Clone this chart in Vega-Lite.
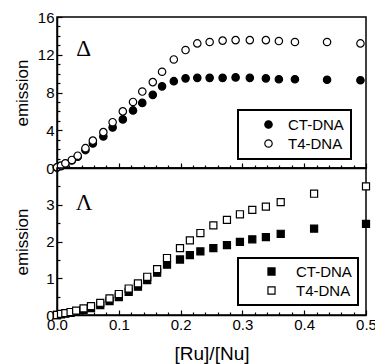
{
  "$schema": "https://vega.github.io/schema/vega-lite/v6.json",
  "padding": {"left": 12, "top": 9, "right": 5, "bottom": 0},
  "spacing": 0,
  "bounds": "flush",
  "config": {
    "font": "Liberation Sans",
    "view": {"stroke": "black", "strokeWidth": 1.5},
    "axis": {"domainColor": "black", "domainWidth": 1.5, "tickColor": "black", "tickWidth": 1.2, "labelColor": "black", "labelFont": "Liberation Sans", "labelFontSize": 15, "labelFlush": false, "titleFont": "Liberation Sans", "titleFontWeight": "normal", "titleColor": "black", "grid": false},
    "legend": {"strokeColor": "black", "strokeWidth": 2, "labelFont": "Liberation Sans", "labelFontSize": 15, "labelColor": "black", "symbolStrokeColor": "black", "symbolStrokeWidth": 1.2}
  },
  "datasets": {
    "delta": [
      {"series": "CT-DNA", "ratio": 0.000, "emission": 0.05},
      {"series": "CT-DNA", "ratio": 0.0065, "emission": 0.2},
      {"series": "CT-DNA", "ratio": 0.0135, "emission": 0.45},
      {"series": "CT-DNA", "ratio": 0.024, "emission": 0.8},
      {"series": "CT-DNA", "ratio": 0.0335, "emission": 1.2},
      {"series": "CT-DNA", "ratio": 0.046, "emission": 1.9},
      {"series": "CT-DNA", "ratio": 0.058, "emission": 2.6},
      {"series": "CT-DNA", "ratio": 0.075, "emission": 3.35},
      {"series": "CT-DNA", "ratio": 0.090, "emission": 4.3},
      {"series": "CT-DNA", "ratio": 0.1065, "emission": 5.15},
      {"series": "CT-DNA", "ratio": 0.123, "emission": 6.1},
      {"series": "CT-DNA", "ratio": 0.138, "emission": 6.9},
      {"series": "CT-DNA", "ratio": 0.155, "emission": 7.75},
      {"series": "CT-DNA", "ratio": 0.170, "emission": 8.65},
      {"series": "CT-DNA", "ratio": 0.189, "emission": 9.2},
      {"series": "CT-DNA", "ratio": 0.208, "emission": 9.5},
      {"series": "CT-DNA", "ratio": 0.227, "emission": 9.55},
      {"series": "CT-DNA", "ratio": 0.247, "emission": 9.55},
      {"series": "CT-DNA", "ratio": 0.268, "emission": 9.55},
      {"series": "CT-DNA", "ratio": 0.289, "emission": 9.6},
      {"series": "CT-DNA", "ratio": 0.312, "emission": 9.55},
      {"series": "CT-DNA", "ratio": 0.338, "emission": 9.5},
      {"series": "CT-DNA", "ratio": 0.359, "emission": 9.4},
      {"series": "CT-DNA", "ratio": 0.385, "emission": 9.4},
      {"series": "CT-DNA", "ratio": 0.437, "emission": 9.35},
      {"series": "CT-DNA", "ratio": 0.491, "emission": 9.3},
      {"series": "T4-DNA", "ratio": 0.000, "emission": 0.07},
      {"series": "T4-DNA", "ratio": 0.0065, "emission": 0.25},
      {"series": "T4-DNA", "ratio": 0.0135, "emission": 0.5},
      {"series": "T4-DNA", "ratio": 0.024, "emission": 0.85},
      {"series": "T4-DNA", "ratio": 0.0335, "emission": 1.3},
      {"series": "T4-DNA", "ratio": 0.046, "emission": 2.1},
      {"series": "T4-DNA", "ratio": 0.058, "emission": 2.9},
      {"series": "T4-DNA", "ratio": 0.075, "emission": 3.8},
      {"series": "T4-DNA", "ratio": 0.090, "emission": 4.85},
      {"series": "T4-DNA", "ratio": 0.1065, "emission": 6.0},
      {"series": "T4-DNA", "ratio": 0.123, "emission": 7.0},
      {"series": "T4-DNA", "ratio": 0.138, "emission": 8.1},
      {"series": "T4-DNA", "ratio": 0.155, "emission": 9.1},
      {"series": "T4-DNA", "ratio": 0.170, "emission": 10.2},
      {"series": "T4-DNA", "ratio": 0.189, "emission": 11.5},
      {"series": "T4-DNA", "ratio": 0.208, "emission": 12.5},
      {"series": "T4-DNA", "ratio": 0.227, "emission": 13.2},
      {"series": "T4-DNA", "ratio": 0.247, "emission": 13.35},
      {"series": "T4-DNA", "ratio": 0.268, "emission": 13.5},
      {"series": "T4-DNA", "ratio": 0.289, "emission": 13.55},
      {"series": "T4-DNA", "ratio": 0.312, "emission": 13.55},
      {"series": "T4-DNA", "ratio": 0.338, "emission": 13.55},
      {"series": "T4-DNA", "ratio": 0.359, "emission": 13.45},
      {"series": "T4-DNA", "ratio": 0.385, "emission": 13.35},
      {"series": "T4-DNA", "ratio": 0.437, "emission": 13.35},
      {"series": "T4-DNA", "ratio": 0.491, "emission": 13.2}
    ],
    "lambda": [
      {"series": "CT-DNA", "ratio": 0.000, "emission": 0.0},
      {"series": "CT-DNA", "ratio": 0.0065, "emission": 0.02},
      {"series": "CT-DNA", "ratio": 0.0135, "emission": 0.04},
      {"series": "CT-DNA", "ratio": 0.022, "emission": 0.06},
      {"series": "CT-DNA", "ratio": 0.031, "emission": 0.09},
      {"series": "CT-DNA", "ratio": 0.043, "emission": 0.14},
      {"series": "CT-DNA", "ratio": 0.055, "emission": 0.19},
      {"series": "CT-DNA", "ratio": 0.070, "emission": 0.27},
      {"series": "CT-DNA", "ratio": 0.085, "emission": 0.38},
      {"series": "CT-DNA", "ratio": 0.100, "emission": 0.49},
      {"series": "CT-DNA", "ratio": 0.116, "emission": 0.63},
      {"series": "CT-DNA", "ratio": 0.131, "emission": 0.77},
      {"series": "CT-DNA", "ratio": 0.146, "emission": 0.95},
      {"series": "CT-DNA", "ratio": 0.162, "emission": 1.15},
      {"series": "CT-DNA", "ratio": 0.178, "emission": 1.37},
      {"series": "CT-DNA", "ratio": 0.199, "emission": 1.51},
      {"series": "CT-DNA", "ratio": 0.215, "emission": 1.63},
      {"series": "CT-DNA", "ratio": 0.232, "emission": 1.73},
      {"series": "CT-DNA", "ratio": 0.253, "emission": 1.82},
      {"series": "CT-DNA", "ratio": 0.275, "emission": 1.9},
      {"series": "CT-DNA", "ratio": 0.296, "emission": 1.99},
      {"series": "CT-DNA", "ratio": 0.316, "emission": 2.06},
      {"series": "CT-DNA", "ratio": 0.338, "emission": 2.12},
      {"series": "CT-DNA", "ratio": 0.362, "emission": 2.21},
      {"series": "CT-DNA", "ratio": 0.416, "emission": 2.35},
      {"series": "CT-DNA", "ratio": 0.5, "emission": 2.48},
      {"series": "T4-DNA", "ratio": 0.000, "emission": 0.0},
      {"series": "T4-DNA", "ratio": 0.0065, "emission": 0.03},
      {"series": "T4-DNA", "ratio": 0.0135, "emission": 0.05},
      {"series": "T4-DNA", "ratio": 0.022, "emission": 0.08},
      {"series": "T4-DNA", "ratio": 0.031, "emission": 0.12},
      {"series": "T4-DNA", "ratio": 0.043, "emission": 0.18},
      {"series": "T4-DNA", "ratio": 0.055, "emission": 0.24},
      {"series": "T4-DNA", "ratio": 0.070, "emission": 0.33},
      {"series": "T4-DNA", "ratio": 0.085, "emission": 0.45},
      {"series": "T4-DNA", "ratio": 0.100, "emission": 0.57},
      {"series": "T4-DNA", "ratio": 0.116, "emission": 0.72},
      {"series": "T4-DNA", "ratio": 0.131, "emission": 0.86},
      {"series": "T4-DNA", "ratio": 0.146, "emission": 1.04},
      {"series": "T4-DNA", "ratio": 0.162, "emission": 1.25},
      {"series": "T4-DNA", "ratio": 0.178, "emission": 1.55},
      {"series": "T4-DNA", "ratio": 0.199, "emission": 1.82},
      {"series": "T4-DNA", "ratio": 0.215, "emission": 2.03},
      {"series": "T4-DNA", "ratio": 0.232, "emission": 2.23},
      {"series": "T4-DNA", "ratio": 0.253, "emission": 2.44},
      {"series": "T4-DNA", "ratio": 0.275, "emission": 2.59},
      {"series": "T4-DNA", "ratio": 0.296, "emission": 2.74},
      {"series": "T4-DNA", "ratio": 0.316, "emission": 2.86},
      {"series": "T4-DNA", "ratio": 0.338, "emission": 2.95},
      {"series": "T4-DNA", "ratio": 0.362, "emission": 3.07},
      {"series": "T4-DNA", "ratio": 0.416, "emission": 3.3},
      {"series": "T4-DNA", "ratio": 0.5, "emission": 3.5}
    ],
    "deltaLabel": [{"label": "Δ", "ratio": 0.043, "emission": 11.9}],
    "lambdaLabel": [{"label": "Λ", "ratio": 0.044, "emission": 2.85}]
  },
  "vconcat": [
    {
      "width": 309,
      "height": 151,
      "layer": [
        {
          "data": {"name": "delta"},
          "mark": {"type": "point", "shape": "circle", "filled": true, "stroke": "black", "strokeWidth": 1.2, "size": 55, "opacity": 1},
          "encoding": {
            "x": {"field": "ratio", "type": "quantitative", "scale": {"domain": [0, 0.5], "nice": false}, "axis": {"orient": "bottom", "values": [0, 0.1, 0.2, 0.3, 0.4, 0.5], "labels": false, "title": null, "tickSize": -5}},
            "y": {"field": "emission", "type": "quantitative", "scale": {"domain": [0, 16], "nice": false}, "axis": {"orient": "left", "values": [0, 4, 8, 12, 16], "tickSize": -5, "labelPadding": 8, "title": "emission", "titleFontSize": 17, "titleX": -26}},
            "fill": {"field": "series", "type": "nominal", "scale": {"domain": ["CT-DNA", "T4-DNA"], "range": ["black", "white"]},
              "legend": {"orient": "none", "legendX": 181, "legendY": 93, "title": null, "symbolType": "circle", "symbolSize": 55, "padding": 7, "rowPadding": 3, "symbolOffset": 16, "labelOffset": 12, "labelExpr": "datum.label + '   '"}}
          }
        },
        {
          "data": {"name": "delta"},
          "mark": {"type": "point", "opacity": 0},
          "encoding": {
            "x": {"field": "ratio", "type": "quantitative", "axis": {"orient": "bottom", "values": [0.02, 0.04, 0.06, 0.08, 0.12, 0.14, 0.16, 0.18, 0.22, 0.24, 0.26, 0.28, 0.32, 0.34, 0.36, 0.38, 0.42, 0.44, 0.46, 0.48], "labels": false, "domain": false, "title": null, "tickSize": -3}},
            "y": {"field": "emission", "type": "quantitative", "axis": {"orient": "left", "values": [1, 2, 3, 5, 6, 7, 9, 10, 11, 13, 14, 15], "labels": false, "domain": false, "title": null, "tickSize": -3}}
          }
        },
        {
          "data": {"name": "deltaLabel"},
          "mark": {"type": "text", "font": "Liberation Serif", "fontSize": 23, "baseline": "alphabetic", "align": "center", "color": "black"},
          "encoding": {
            "x": {"field": "ratio", "type": "quantitative", "axis": null},
            "y": {"field": "emission", "type": "quantitative", "axis": null},
            "text": {"field": "label"}
          }
        }
      ],
      "resolve": {"axis": {"x": "independent", "y": "independent"}}
    },
    {
      "width": 309,
      "height": 147,
      "layer": [
        {
          "data": {"name": "lambda"},
          "mark": {"type": "point", "shape": "square", "filled": true, "stroke": "black", "strokeWidth": 1.2, "size": 50, "opacity": 1},
          "encoding": {
            "x": {"field": "ratio", "type": "quantitative", "scale": {"domain": [0, 0.5], "nice": false}, "axis": {"orient": "bottom", "values": [0, 0.1, 0.2, 0.3, 0.4, 0.5], "format": ".1f", "tickSize": -5, "labelPadding": 7, "title": "[Ru]/[Nu]", "titleFontSize": 19, "titlePadding": 12}},
            "y": {"field": "emission", "type": "quantitative", "scale": {"domain": [0, 4], "nice": false}, "axis": {"orient": "left", "values": [0, 1, 2, 3], "tickSize": -5, "labelPadding": 8, "title": "emission", "titleFontSize": 17, "titleX": -26}},
            "fill": {"field": "series", "type": "nominal", "scale": {"domain": ["CT-DNA", "T4-DNA"], "range": ["black", "white"]},
              "legend": {"orient": "none", "legendX": 181, "legendY": 90, "title": null, "symbolType": "square", "symbolSize": 50, "padding": 6, "rowPadding": 3, "symbolOffset": 20, "labelOffset": 17, "labelExpr": "datum.label + ' '"}}
          }
        },
        {
          "data": {"name": "lambda"},
          "mark": {"type": "point", "opacity": 0},
          "encoding": {
            "x": {"field": "ratio", "type": "quantitative", "axis": {"orient": "bottom", "values": [0.02, 0.04, 0.06, 0.08, 0.12, 0.14, 0.16, 0.18, 0.22, 0.24, 0.26, 0.28, 0.32, 0.34, 0.36, 0.38, 0.42, 0.44, 0.46, 0.48], "labels": false, "domain": false, "title": null, "tickSize": -3}},
            "y": {"field": "emission", "type": "quantitative", "axis": {"orient": "left", "values": [0.5, 1.5, 2.5, 3.5], "labels": false, "domain": false, "title": null, "tickSize": -3}}
          }
        },
        {
          "data": {"name": "lambdaLabel"},
          "mark": {"type": "text", "font": "Liberation Serif", "fontSize": 23, "baseline": "alphabetic", "align": "center", "color": "black"},
          "encoding": {
            "x": {"field": "ratio", "type": "quantitative", "axis": null},
            "y": {"field": "emission", "type": "quantitative", "axis": null},
            "text": {"field": "label"}
          }
        }
      ],
      "resolve": {"axis": {"x": "independent", "y": "independent"}}
    }
  ],
  "resolve": {"scale": {"fill": "independent"}, "legend": {"fill": "independent"}}
}
